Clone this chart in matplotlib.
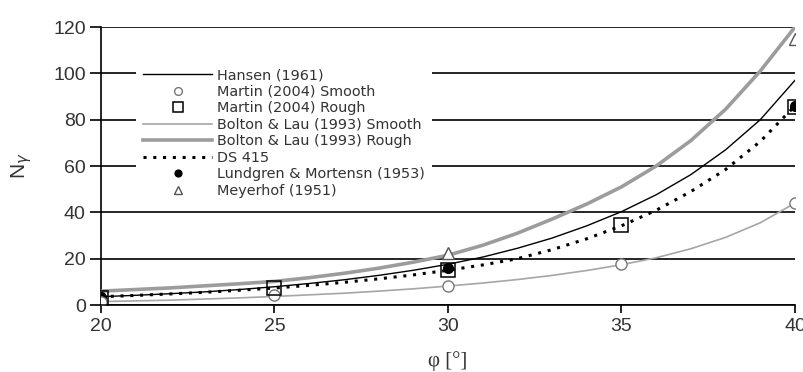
import matplotlib
matplotlib.use("Agg")
import matplotlib.pyplot as plt

# friction angle (degrees) for the continuous curves
phi = list(range(20, 41))

# bearing capacity factor N_gamma per degree
hansen_1961 = [3.6, 4.2, 4.9, 5.7, 6.7, 7.9, 9.3, 10.9, 12.8, 15.0, 17.6,
               20.7, 24.5, 28.9, 34.2, 40.3, 47.6, 56.3, 67.0, 80.0, 97.0]
bolton_smooth = [1.5, 1.8, 2.1, 2.6, 3.1, 3.7, 4.4, 5.1, 6.0, 7.0, 8.2,
                 9.5, 11.0, 12.8, 14.9, 17.4, 20.4, 24.3, 29.2, 35.5, 44.0]
bolton_rough = [6.0, 6.7, 7.4, 8.3, 9.2, 10.2, 11.8, 13.7, 15.9, 18.5, 21.5,
                25.8, 31.0, 37.1, 43.6, 51.0, 60.0, 71.0, 84.5, 101.0, 120.0]
ds_415 = [3.6, 4.15, 4.8, 5.5, 6.4, 7.35, 8.5, 9.8, 11.3, 13.0, 15.0,
          17.3, 20.0, 23.9, 28.6, 34.2, 40.9, 49.0, 58.5, 70.6, 86.0]

# discrete results
phi_martin = [20, 25, 30, 35, 40]
martin_smooth = [1.5, 4.3, 8.2, 17.5, 44.0]
martin_rough = [3.0, 7.2, 15.0, 34.5, 85.5]
phi_lundgren = [20, 30, 40]
lundgren = [3.3, 15.8, 86.0]
phi_meyerhof = [30, 40]
meyerhof = [22.6, 115.0]

xticks = [20, 25, 30, 35, 40]
yticks = [0, 20, 40, 60, 80, 100, 120]

txt = "#333333"
plt.rcParams["font.family"] = ["Liberation Sans", "DejaVu Sans"]

fig = plt.figure(figsize=(8.04, 3.72), dpi=100)
ax = fig.add_axes([0.1256, 0.18, 0.8632, 0.7474])

ax.plot(phi, hansen_1961, color="black", lw=1.0, label="Hansen (1961)", zorder=4)
ax.plot(phi_martin, martin_smooth, ls="none", marker="o", ms=8, mfc="white",
        mec="#777777", mew=1.0, label="Martin (2004) Smooth", zorder=6)
ax.plot(phi_martin, martin_rough, ls="none", marker="s", ms=10, mfc="none",
        mec="black", mew=1.1, label="Martin (2004) Rough", zorder=6)
ax.plot(phi, bolton_smooth, color="#a6a6a6", lw=1.2,
        label="Bolton & Lau (1993) Smooth", zorder=3)
ax.plot(phi, bolton_rough, color="#9c9c9c", lw=2.6,
        label="Bolton & Lau (1993) Rough", zorder=3)
ax.plot(phi, ds_415, color="black", lw=2.2, ls=(0, (1, 2.2)),
        label="DS 415", zorder=5)
ax.plot(phi_lundgren, lundgren, ls="none", marker="o", ms=7, mfc="black",
        mec="black", label="Lundgren & Mortensn (1953)", zorder=5)
ax.plot(phi_meyerhof, meyerhof, ls="none", marker="^", ms=9, mfc="white",
        mec="#555555", mew=1.0, label="Meyerhof (1951)", zorder=6)

ax.set_xlim(20, 40)
ax.set_ylim(0, 120)
ax.set_xticks(xticks)
ax.set_yticks(yticks)
ax.yaxis.grid(True, color="black", lw=1.2)
ax.set_axisbelow(True)

for s in ("top", "right"):
    ax.spines[s].set_visible(False)
for s in ("left", "bottom"):
    ax.spines[s].set_color("black")
    ax.spines[s].set_linewidth(1.2)

ax.tick_params(axis="y", direction="out", length=8, width=1.2,
               labelsize=14, labelcolor=txt, pad=3)
ax.tick_params(axis="x", direction="out", length=6, width=1.2,
               labelsize=14, labelcolor=txt, pad=3)

ax.set_ylabel(r"N$_\gamma$", fontsize=15, color=txt, labelpad=14)
ax.set_xlabel("φ [°]", fontsize=15, color=txt, family="Liberation Serif",
              labelpad=12)

leg = ax.legend(loc="upper left", bbox_to_anchor=(0.05, 0.877),
                prop={"family": "DejaVu Sans", "size": 10.4},
                frameon=True, fancybox=False, framealpha=1.0,
                handlelength=4.8, handletextpad=0.3, labelspacing=0.17,
                borderpad=0.5, borderaxespad=0.0, markerscale=0.7)
leg.get_frame().set_facecolor("white")
leg.get_frame().set_edgecolor("none")
for t in leg.get_texts():
    t.set_color(txt)

fig.savefig("out.png", dpi=100)
